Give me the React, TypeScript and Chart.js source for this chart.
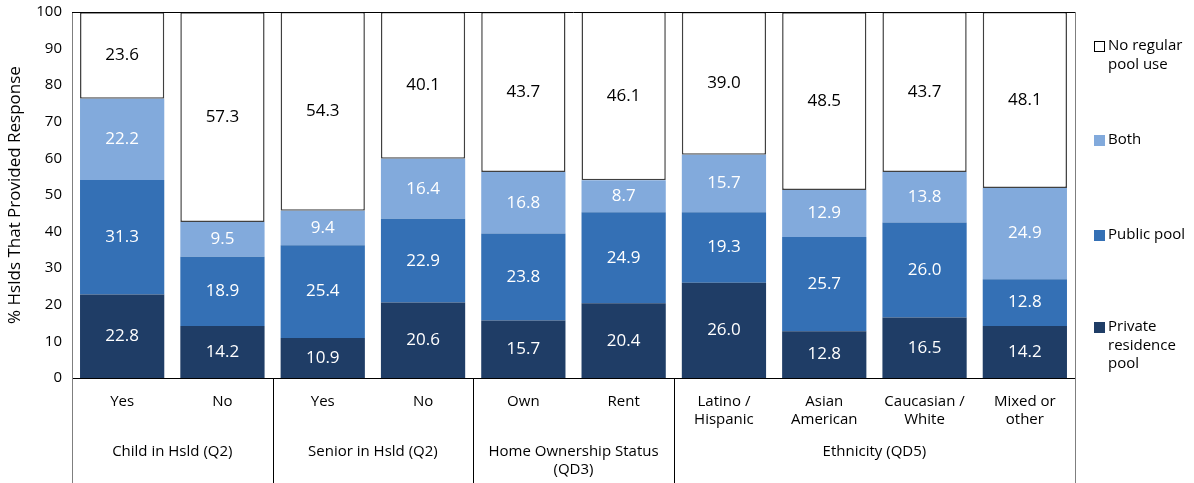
import React, { useEffect, useRef } from "react";
import { Chart, registerables } from "chart.js";

Chart.register(...registerables);

const categories: (string | string[])[] = [
  "Yes",
  "No",
  "Yes",
  "No",
  "Own",
  "Rent",
  ["Latino /", "Hispanic"],
  ["Asian", "American"],
  ["Caucasian /", "White"],
  ["Mixed or", "other"],
];

const groupLabels: string[][] = [
  ["Child in Hsld (Q2)"],
  ["Senior in Hsld (Q2)"],
  ["Home Ownership Status", "(QD3)"],
  ["Ethnicity (QD5)"],
];
const groupSizes = [2, 2, 2, 4];

const privatePool = [22.8, 14.2, 10.9, 20.6, 15.7, 20.4, 26.0, 12.8, 16.5, 14.2];
const publicPool = [31.3, 18.9, 25.4, 22.9, 23.8, 24.9, 19.3, 25.7, 26.0, 12.8];
const bothPools = [22.2, 9.5, 9.4, 16.4, 16.8, 8.7, 15.7, 12.9, 13.8, 24.9];
const noPool = [23.6, 57.3, 54.3, 40.1, 43.7, 46.1, 39.0, 48.5, 43.7, 48.1];

const yTicks = [0, 10, 20, 30, 40, 50, 60, 70, 80, 90, 100];

const legendItems: { lines: string[]; color: string; stroke: boolean }[] = [
  { lines: ["No regular", "pool use"], color: "#FFFFFF", stroke: true },
  { lines: ["Both"], color: "#82AADC", stroke: false },
  { lines: ["Public pool"], color: "#3470B5", stroke: false },
  { lines: ["Private", "residence", "pool"], color: "#1F3D66", stroke: false },
];

const FONT = "'Open Sans', 'DejaVu Sans', sans-serif";

export default function App() {
  const ref = useRef<HTMLCanvasElement | null>(null);

  useEffect(() => {
    if (!ref.current) return;

    const extras = {
      id: "extras",
      afterDraw(chart: any) {
        const ctx = chart.ctx as CanvasRenderingContext2D;
        const area = chart.chartArea;
        const H = chart.height;
        const n = categories.length;
        const cw = (area.right - area.left) / n;
        ctx.save();
        // frame top/right
        ctx.lineWidth = 1;
        ctx.strokeStyle = "#000000";
        ctx.beginPath();
        ctx.moveTo(area.left, Math.round(area.top) + 0.5);
        ctx.lineTo(area.right, Math.round(area.top) + 0.5);
        ctx.stroke();
        ctx.strokeStyle = "#7F7F7F";
        ctx.beginPath();
        ctx.moveTo(Math.round(area.right) + 0.5, area.top);
        ctx.lineTo(Math.round(area.right) + 0.5, H);
        ctx.moveTo(Math.round(area.left) + 0.5, area.bottom);
        ctx.lineTo(Math.round(area.left) + 0.5, H);
        ctx.stroke();
        // group separators and labels
        let idx = 0;
        ctx.font = `15px ${FONT}`;
        ctx.fillStyle = "#000000";
        ctx.textAlign = "center";
        ctx.textBaseline = "middle";
        groupSizes.forEach((size, g) => {
          const x0 = area.left + idx * cw;
          const x1 = area.left + (idx + size) * cw;
          if (idx > 0) {
            ctx.strokeStyle = "#000000";
            ctx.beginPath();
            ctx.moveTo(Math.round(x0) + 0.5, area.bottom);
            ctx.lineTo(Math.round(x0) + 0.5, H);
            ctx.stroke();
          }
          groupLabels[g].forEach((line, li) => {
            ctx.fillText(line, (x0 + x1) / 2, area.bottom + 74 + li * 18);
          });
          idx += size;
        });
        // data labels
        chart.data.datasets.forEach((ds: any, di: number) => {
          const meta = chart.getDatasetMeta(di);
          ctx.font = `17px ${FONT}`;
          ctx.fillStyle = di === 3 ? "#000000" : "#FFFFFF";
          meta.data.forEach((bar: any, i: number) => {
            const { x, y, base } = bar.getProps(["x", "y", "base"], true);
            const v = ds.data[i];
            ctx.fillText(v.toFixed(1), x, (y + base) / 2);
          });
        });
        // legend
        ctx.textAlign = "left";
        ctx.font = `15px ${FONT}`;
        const starts = [46, 140, 235, 327];
        legendItems.forEach((it, k) => {
          const y0 = starts[k];
          ctx.fillStyle = it.color;
          ctx.fillRect(1094, y0 - 5, 11, 11);
          if (it.stroke) {
            ctx.strokeStyle = "#000000";
            ctx.strokeRect(1094.5, y0 - 4.5, 10, 10);
          }
          ctx.fillStyle = "#000000";
          it.lines.forEach((line, li) => {
            ctx.fillText(line, 1108, y0 + li * 18.5);
          });
        });
        ctx.restore();
      },
    };

    const chart = new Chart(ref.current, {
      type: "bar",
      data: {
        labels: categories,
        datasets: [
          { label: "Private residence pool", data: privatePool, backgroundColor: "#1F3D66", borderWidth: 0 },
          { label: "Public pool", data: publicPool, backgroundColor: "#3470B5", borderWidth: 0 },
          { label: "Both", data: bothPools, backgroundColor: "#82AADC", borderWidth: 0 },
          {
            label: "No regular pool use",
            data: noPool,
            backgroundColor: "#FFFFFF",
            borderColor: "#404040",
            borderWidth: 1.5,
            borderSkipped: false,
          },
        ],
      },
      options: {
        animation: false,
        responsive: true,
        maintainAspectRatio: false,
        layout: { padding: { left: 0, right: 119, top: 12, bottom: 0 } },
        plugins: {
          legend: { display: false },
          tooltip: { enabled: false },
        },
        datasets: { bar: { barPercentage: 0.84, categoryPercentage: 1 } },
        scales: {
          x: {
            stacked: true,
            grid: { display: false, drawTicks: false },
            border: { display: true, color: "#000000", width: 1 },
            ticks: {
              color: "#000000",
              font: { family: FONT, size: 15, lineHeight: 18 / 15 },
              padding: 15,
              maxRotation: 0,
              autoSkip: false,
            },
            afterFit: (s: any) => {
              s.height = 105;
              s.paddingLeft = 0;
              s.paddingRight = 0;
            },
          },
          y: {
            stacked: true,
            min: 0,
            max: 100,
            afterBuildTicks: (s: any) => {
              s.ticks = yTicks.map((v) => ({ value: v }));
            },
            grid: { display: false, drawTicks: false },
            border: { display: true, color: "#7F7F7F", width: 1 },
            ticks: {
              color: "#000000",
              font: { family: FONT, size: 15 },
              padding: 10,
            },
            title: {
              display: true,
              text: "% Hslds That Provided Response",
              color: "#000000",
              font: { family: FONT, size: 17 },
              padding: { top: 5, bottom: 0 },
            },
            afterFit: (s: any) => {
              s.width = 72;
              s.paddingTop = 0;
              s.paddingBottom = 0;
            },
          },
        },
      },
      plugins: [extras],
    });

    return () => chart.destroy();
  }, []);

  return (
    <div style={{ position: "fixed", left: 0, top: 0, width: 1194, height: 483, background: "#FFFFFF" }}>
      <canvas ref={ref} />
    </div>
  );
}
